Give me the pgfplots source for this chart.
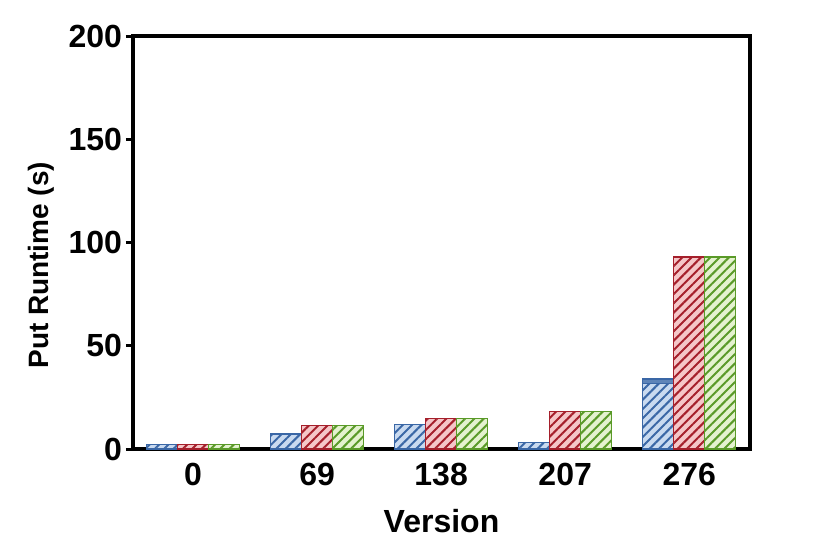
\documentclass[border=0pt]{standalone}
\usepackage{fontspec}
\setmainfont{Liberation Sans}
\usepackage{pgfplots}
\pgfplotsset{compat=1.18}
\usetikzlibrary{patterns.meta}

\definecolor{bfill}{HTML}{C9DAF0}
\definecolor{bline}{HTML}{3A67A6}
\definecolor{rfill}{HTML}{F5C6C8}
\definecolor{rline}{HTML}{A51F2B}
\definecolor{gfill}{HTML}{E4F2CF}
\definecolor{gline}{HTML}{5A9A28}

\pgfplotsset{
  hatched/.style 2 args={
    draw=#2, fill=#1, line width=0.6pt,
    postaction={pattern={Lines[angle=45,distance=3.3pt,line width=1pt]},pattern color=#2}
  }
}

\begin{document}
\begin{tikzpicture}
\begin{axis}[
  scale only axis,
  width=308.5pt, height=206.5pt,
  ybar, bar width=15.5pt,
  xmin=-0.484, xmax=4.49,
  ymin=0, ymax=200,
  xtick={0,1,2,3,4},
  xticklabels={0,69,138,207,276},
  ytick={0,50,100,150,200},
  major x tick style={draw=none},
  tick align=outside,
  ytick pos=left,
  major tick length=3.5pt,
  y tick style={line width=1.5pt, black},
  axis line style={line width=1.7pt},
  /pgf/number format/assume math mode=true,
  tick label style={font=\fontsize{16}{19}\selectfont\bfseries},
  yticklabel style={xshift=1.5pt},
  xlabel={Version},
  ylabel={Put Runtime (s)},
  xlabel style={font=\fontsize{16}{19}\selectfont\bfseries, yshift=-5pt},
  ylabel style={font=\fontsize{14}{17}\selectfont\bfseries, at={(ticklabel cs:0.445)}},
  clip=false,
]
% solid top strip of the last blue bar
\addplot[bar shift=-15.5pt, draw=bline, fill=bline!75!bfill, line width=0.6pt]
  coordinates {(4,33.9)};
\addplot[bar shift=-15.5pt, hatched={bfill}{bline}]
  coordinates {(0,2.0) (1,7.3) (2,11.8) (3,3.3) (4,31.8)};
\addplot[bar shift=0pt, hatched={rfill}{rline}]
  coordinates {(0,2.0) (1,11.3) (2,14.7) (3,18.1) (4,93.0)};
\addplot[bar shift=15.5pt, hatched={gfill}{gline}]
  coordinates {(0,2.0) (1,11.3) (2,14.7) (3,18.1) (4,93.0)};
\end{axis}
\useasboundingbox (-66.5pt,-54pt) rectangle (348.5pt,224.5pt);
\end{tikzpicture}
\end{document}
